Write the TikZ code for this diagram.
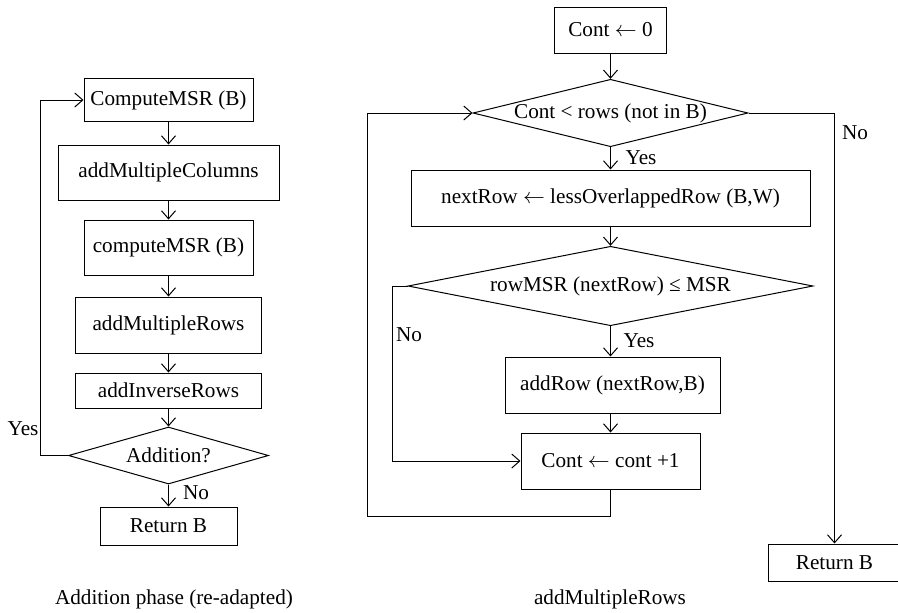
\documentclass[tikz,border=0pt]{standalone}
\usepackage{fontspec}
\setmainfont{Liberation Serif}
\usetikzlibrary{shapes.geometric,arrows.meta}
\tikzset{
  stepbox/.style={draw, rectangle, line width=0.5pt, inner sep=0pt, align=center},
  testbox/.style={draw, diamond, line width=0.5pt, inner sep=0pt, aspect=4},
  flow/.style={line width=0.5pt, ->},
}
\begin{document}
\begin{tikzpicture}[x=0.5pt, y=-0.5pt, font=\fontsize{10.6}{12}\selectfont,
    >={Straight Barb[length=4pt,width=7pt]}]
        \useasboundingbox (0,0) rectangle (898,612);
        % left chart: addition phase
        \node[stepbox, minimum width=84.5pt, minimum height=21.5pt] (cmsA) at (168.5,100) {ComputeMSR (B)};
        \node[stepbox, minimum width=110.5pt, minimum height=27.5pt] (amc) at (168.5,172.5) {addMultipleColumns};
        \node[stepbox, minimum width=84.5pt, minimum height=27.5pt] (cmsB) at (168.5,247.5) {computeMSR (B)};
        \node[stepbox, minimum width=93pt, minimum height=28pt] (amr) at (168.5,325) {addMultipleRows};
        \node[stepbox, minimum width=93pt, minimum height=17.5pt] (air) at (168.5,390.5) {addInverseRows};
        \node[testbox, minimum width=100pt, minimum height=28.5pt] (addq) at (168.5,455.5) {Addition?};
        \node[stepbox, minimum width=68.5pt, minimum height=19pt] (retL) at (168.5,526) {Return B};
        \coordinate (yesL) at (40,455.5);
        \draw[flow] (cmsA) -- (amc);
        \draw[flow] (amc) -- (cmsB);
        \draw[flow] (cmsB) -- (amr);
        \draw[flow] (amr) -- (air);
        \draw[flow] (air) -- (addq);
        \draw[flow] (addq) -- (retL);
        \draw[flow] (addq.west) -- (yesL) |- (cmsA.west);
        \node (yesA) at (23,429) {Yes};
        \node (noA) at (196,493) {No};
        % right chart: addMultipleRows
        \node[stepbox, minimum width=56pt, minimum height=23pt] (cz) at (610.5,30) {Cont $\leftarrow$ 0};
        \node[testbox, minimum width=137.5pt, minimum height=33.5pt] (rowq) at (610.5,113) {Cont < rows (not in B)};
        \node[stepbox, minimum width=199.5pt, minimum height=28pt] (nr) at (610.5,198) {nextRow $\leftarrow$ lessOverlappedRow (B,W)};
        \node[testbox, minimum width=202.5pt, minimum height=37.5pt] (msrq) at (610.5,286) {rowMSR (nextRow) ≤ MSR};
        \node[stepbox, minimum width=107.5pt, minimum height=28pt] (ar) at (612.5,385) {addRow (nextRow,B)};
        \node[stepbox, minimum width=89.5pt, minimum height=28pt] (ci) at (610.5,461) {Cont $\leftarrow$ cont +1};
        \node[stepbox, minimum width=66pt, minimum height=18.5pt] (retR) at (834.5,562.5) {Return B};
        \coordinate (noL) at (392,286);
        \coordinate (loopB) at (367,516);
        \draw[flow] (cz) -- (rowq);
        \draw[flow] (rowq) -- (nr);
        \draw[flow] (nr) -- (msrq);
        \draw[flow] (msrq.south) -- (msrq.south |- ar.north);
        \draw[flow] (ar.south -| ci.north) -- (ci.north);
        \draw[flow] (msrq.west) -- (noL) |- (ci.west);
        \draw[flow] (ci.south) |- (loopB) |- (rowq.west);
        \draw[flow] (rowq.east) -| (retR.north);
        \node (yesB) at (641,158) {Yes};
        \node (yesC) at (639,341) {Yes};
        \node (noB) at (409,335) {No};
        \node (noC) at (855,133) {No};
        % captions
        \node (capA) at (174,599) {Addition phase (re-adapted)};
        \node (capB) at (610,599) {addMultipleRows};
      \end{tikzpicture}
\end{document}
